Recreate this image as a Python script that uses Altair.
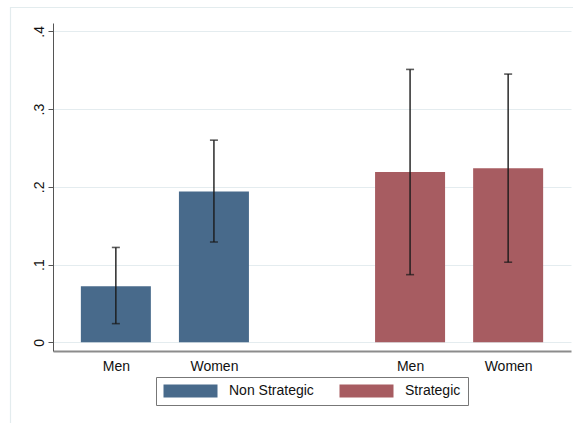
import altair as alt
import pandas as pd

# Mean share by treatment group and sex, with 95% confidence intervals
groups = ["Non Strategic", "Non Strategic", "Strategic", "Strategic"]
sexes = ["Men", "Women", "Men", "Women"]
means = [0.072, 0.194, 0.219, 0.224]
ci_low = [0.024, 0.129, 0.087, 0.103]
ci_high = [0.122, 0.260, 0.351, 0.345]

group_order = ["Non Strategic", "Strategic"]
group_colors = ["#486a8b", "#a75c61"]
y_ticks = [0, 0.1, 0.2, 0.3, 0.4]

# Slot on the x axis: one empty slot between the two groups
slots = []
for i, g in enumerate(groups):
    slots.append(i + 1 + group_order.index(g))

df = pd.DataFrame({
    "group": groups,
    "sex": sexes,
    "slot": slots,
    "mean": means,
    "lo": ci_low,
    "hi": ci_high,
})

# Axis label expression from slot -> sex
label_expr = "''"
for s, lab in zip(slots, sexes):
    label_expr = f"datum.value == {s} ? '{lab}' : ({label_expr})"

FONT = "Liberation Sans"

x_scale = alt.Scale(domain=[0.41, 5.59], nice=False, zero=False)
y_scale = alt.Scale(domain=[-0.0112, 0.4107], nice=False, zero=False)

x_axis = alt.Axis(
    values=slots, labelExpr=label_expr, title=None, grid=False,
    ticks=False, labelPadding=8, labelFontSize=14, labelFont=FONT,
    labelColor="#111111", domainColor="#8c8c8c", domainWidth=2,
)
y_axis = alt.Axis(
    values=y_ticks, title=None, grid=True, gridColor="#e4ecef", gridWidth=1,
    labelExpr="datum.value == 0 ? '0' : replace(format(datum.value, '.1f'), '0.', '.')",
    labelAngle=270, labelAlign="center", labelBaseline="alphabetic",
    labelPadding=5, tickSize=5, tickColor="#555555", labelFontSize=14,
    labelFont=FONT, labelColor="#111111", domainColor="#555555", domainWidth=1,
)

# Legend key: a 54x13 box. The symbol size sets a 13px entry height and the
# path is stretched to the right of the symbol's own slot.
KEY_H = 13
KEY_W = 54
key_right = (KEY_W - KEY_H / 2) / (KEY_H / 2)
key_path = f"M-1,-1H{key_right:.4f}V1H-1Z"

base = alt.Chart(df)

bars = base.mark_bar(size=70).encode(
    x=alt.X("slot:Q", scale=x_scale, axis=x_axis),
    y=alt.Y("mean:Q", scale=y_scale, axis=y_axis),
    y2=alt.Y2(datum=0),
    color=alt.Color(
        "group:N",
        scale=alt.Scale(domain=group_order, range=group_colors),
        legend=alt.Legend(
            title=None, orient="none", legendX=103, legendY=354,
            direction="horizontal",
            symbolType=key_path, symbolSize=KEY_H * KEY_H,
            symbolStrokeWidth=0, symbolOpacity=1,
            labelFont=FONT, labelFontSize=14, labelColor="#111111",
            labelOffset=KEY_W - KEY_H + 11, columnPadding=25, padding=7,
            strokeColor="#777777", fillColor="white",
        ),
    ),
)

whiskers = base.mark_rule(color="#1a1a1a", strokeWidth=1.4).encode(
    x="slot:Q", y="lo:Q", y2="hi:Q",
)
cap_lo = base.mark_tick(orient="horizontal", size=8, thickness=1.6, color="#1a1a1a").encode(
    x="slot:Q", y="lo:Q",
)
cap_hi = base.mark_tick(orient="horizontal", size=8, thickness=1.6, color="#1a1a1a").encode(
    x="slot:Q", y="hi:Q",
)

# Faint outer frame of the graph region
frame = alt.Chart(pd.DataFrame({"k": [0]})).mark_rect(
    fillOpacity=0, stroke="#e3ecee", strokeWidth=1.2,
).encode(
    x=alt.value(-42.5), x2=alt.value(640), y=alt.value(-15.5), y2=alt.value(460),
)

chart = alt.layer(frame, bars, whiskers, cap_lo, cap_hi).properties(
    width=518, height=328,
    autosize=alt.AutoSizeParams(type="none"),
    padding={"left": 53, "top": 23, "right": 2, "bottom": 72},
    background="white",
).configure_view(stroke=None)

chart.save("out.html", embed_options={"renderer": "svg", "actions": False})
